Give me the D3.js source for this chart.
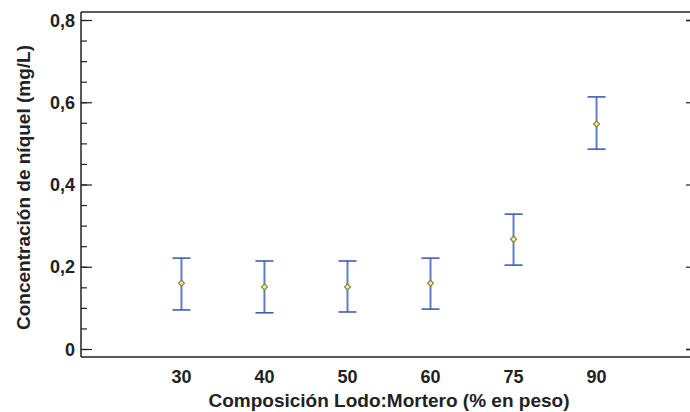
<!DOCTYPE html>
<meta charset="utf-8">
<style>
  body { margin: 0; background: white; }
  svg text { font-family: "Liberation Sans", Arial, sans-serif; font-weight: bold; fill: #222; }
</style>
<body>
<script src="https://d3js.org/d3.v7.min.js"></script>
<script>

// data
var categories = ["30", "40", "50", "60", "75", "90"];
var means = [0.160, 0.151, 0.151, 0.160, 0.267, 0.547];
var lower = [0.095, 0.088, 0.090, 0.097, 0.204, 0.486];
var upper = [0.221, 0.214, 0.214, 0.221, 0.328, 0.613];
var yTicks = [0, 0.2, 0.4, 0.6, 0.8];

var width = 690, height = 412;
// plot frame (note: "top" is reserved on window, so use other names)
var plotLeft = 81, plotRight = 697, plotTop = 12, plotBottom = 357;

var svg = d3.select("body").append("svg")
    .attr("width", width)
    .attr("height", height);

var x = d3.scalePoint().domain(categories).range([plotLeft, plotRight]).padding(1.21);
var y = d3.scaleLinear().domain([0, 0.8]).range([349, 20]);

var fmt = function(d) { return d === 0 ? "0" : d3.format(".1f")(d).replace(".", ","); };

// frame top / bottom
svg.append("line")
    .attr("x1", plotLeft).attr("x2", plotRight).attr("y1", plotTop).attr("y2", plotTop)
    .attr("stroke", "#222").attr("stroke-width", 1.5);
svg.append("line")
    .attr("x1", plotLeft).attr("x2", plotRight).attr("y1", plotBottom).attr("y2", plotBottom)
    .attr("stroke", "#222").attr("stroke-width", 1.5);

// left axis with minor ticks
var yAxisMinor = svg.append("g")
    .attr("transform", "translate(" + plotLeft + ",0)")
    .call(d3.axisRight(y).tickValues(d3.range(0, 0.801, 0.05)).tickSize(6).tickFormat(""));
yAxisMinor.select(".domain").remove();
yAxisMinor.selectAll("line").attr("stroke", "#222").attr("stroke-width", 1.2);

var yAxis = svg.append("g")
    .attr("transform", "translate(" + plotLeft + ",0)")
    .call(d3.axisRight(y).tickValues(yTicks).tickSize(11).tickFormat(""));
yAxis.select(".domain").remove();
yAxis.selectAll("line").attr("stroke", "#222").attr("stroke-width", 1.2);

svg.append("line")
    .attr("x1", plotLeft).attr("x2", plotLeft).attr("y1", plotTop).attr("y2", plotBottom)
    .attr("stroke", "#222").attr("stroke-width", 1.5);

svg.selectAll(".ylab").data(yTicks).enter().append("text")
    .attr("class", "ylab")
    .attr("x", 75)
    .attr("y", function(d) { return y(d) + 6.5; })
    .attr("text-anchor", "end")
    .style("font-size", "18px")
    .text(fmt);

// right axis, majors only
var yRight = svg.append("g")
    .attr("transform", "translate(" + plotRight + ",0)")
    .call(d3.axisLeft(y).tickValues(yTicks).tickSize(11).tickFormat(""));
yRight.select(".domain").attr("stroke", "#222").attr("stroke-width", 1.5);
yRight.selectAll("line").attr("stroke", "#222").attr("stroke-width", 1.2);

// x tick labels
svg.selectAll(".xlab").data(categories).enter().append("text")
    .attr("class", "xlab")
    .attr("x", function(d) { return x(d); })
    .attr("y", 383)
    .attr("text-anchor", "middle")
    .style("font-size", "18px")
    .text(function(d) { return d; });

// axis titles
svg.append("text")
    .attr("x", (plotLeft + plotRight) / 2)
    .attr("y", 407)
    .attr("text-anchor", "middle")
    .style("font-size", "19px")
    .text("Composición Lodo:Mortero (% en peso)");

svg.append("text")
    .attr("transform", "translate(30," + ((plotTop + plotBottom) / 2 + 3) + ") rotate(-90)")
    .attr("text-anchor", "middle")
    .style("font-size", "19px")
    .text("Concentración de níquel (mg/L)");

// error bars
var bars = svg.selectAll(".bar").data(categories).enter().append("g").attr("class", "bar");

bars.append("line")
    .attr("x1", function(d) { return x(d); })
    .attr("x2", function(d) { return x(d); })
    .attr("y1", function(d, i) { return y(upper[i]); })
    .attr("y2", function(d, i) { return y(lower[i]); })
    .attr("stroke", "#5f7dc8").attr("stroke-width", 2);

bars.append("line")
    .attr("x1", function(d) { return x(d) - 9; })
    .attr("x2", function(d) { return x(d) + 9; })
    .attr("y1", function(d, i) { return y(upper[i]); })
    .attr("y2", function(d, i) { return y(upper[i]); })
    .attr("stroke", "#3553aa").attr("stroke-width", 1.5);

bars.append("line")
    .attr("x1", function(d) { return x(d) - 9; })
    .attr("x2", function(d) { return x(d) + 9; })
    .attr("y1", function(d, i) { return y(lower[i]); })
    .attr("y2", function(d, i) { return y(lower[i]); })
    .attr("stroke", "#3553aa").attr("stroke-width", 1.5);

bars.append("path")
    .attr("d", d3.symbol().type(d3.symbolDiamond2).size(22))
    .attr("transform", function(d, i) { return "translate(" + x(d) + "," + y(means[i]) + ")"; })
    .attr("fill", "#f4f2c8")
    .attr("stroke", "#8e8c2e")
    .attr("stroke-width", 1.3);

</script>
</body>
